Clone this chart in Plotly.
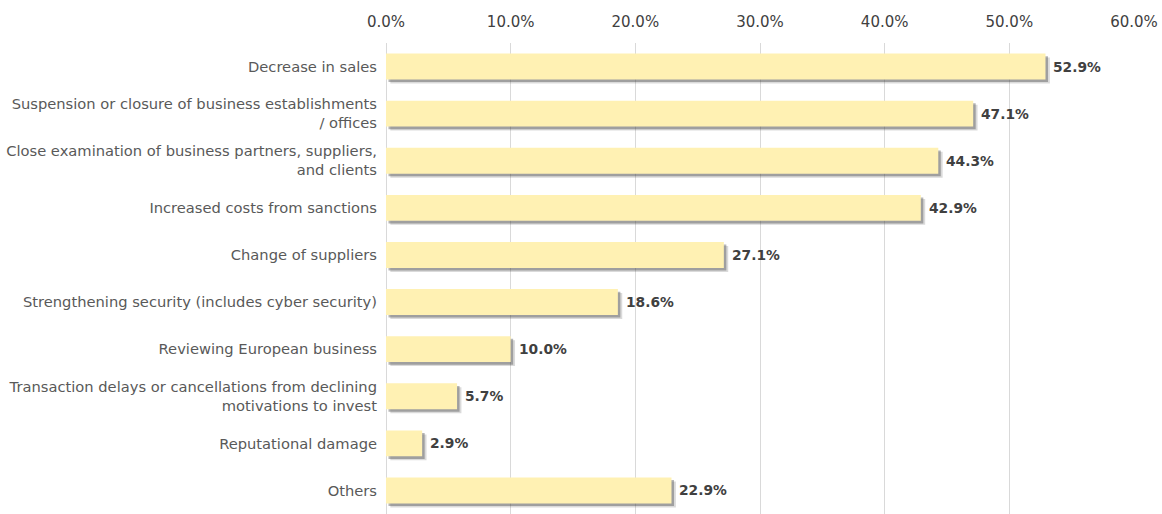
import plotly.graph_objects as go

categories = [
    "Decrease in sales",
    "Suspension or closure of business establishments<br>/ offices",
    "Close examination of business partners, suppliers,<br>and clients",
    "Increased costs from sanctions",
    "Change of suppliers",
    "Strengthening security (includes cyber security)",
    "Reviewing European business",
    "Transaction delays or cancellations from declining<br>motivations to invest",
    "Reputational damage",
    "Others",
]
shares = [52.9, 47.1, 44.3, 42.9, 27.1, 18.6, 10.0, 5.7, 2.9, 22.9]
tick_values = [0, 10, 20, 30, 40, 50, 60]

BAR_WIDTH = 0.55
FONT = "DejaVu Sans"

fig = go.Figure()

# soft drop shadow drawn as two faint grey layers under each bar
for dx, dy, alpha in [(0.35, 0.085, 0.2), (0.2, 0.055, 0.4)]:
    fig.add_trace(go.Bar(
        x=shares, y=categories, orientation="h",
        base=dx,
        width=BAR_WIDTH, offset=-BAR_WIDTH / 2 + dy,
        marker=dict(color=f"rgba(70,70,70,{alpha})", line=dict(width=0)),
        hoverinfo="skip", showlegend=False,
    ))

fig.add_trace(go.Bar(
    x=shares, y=categories, orientation="h",
    width=BAR_WIDTH, offset=-BAR_WIDTH / 2,
    marker=dict(color="#FFF1B3", line=dict(width=0)),
    showlegend=False,
))

# value labels just past the end of each bar
for v, c in zip(shares, categories):
    fig.add_annotation(
        x=v, y=c, text=f"<b>{v:.1f}%</b>", showarrow=False,
        xanchor="left", yanchor="middle", xshift=6,
        font=dict(family=FONT, size=13.8, color="#404040"),
    )

fig.update_layout(
    width=1162, height=514,
    margin=dict(l=386, r=28, t=43, b=0),
    paper_bgcolor="white", plot_bgcolor="white",
    barmode="overlay",
    font=dict(family=FONT, size=14.7, color="#595959"),
    xaxis=dict(
        side="top", range=[0, 60], tickvals=tick_values,
        ticktext=[f"{v:.1f}%" for v in tick_values],
        tickfont=dict(family=FONT, size=15, color="#404040"),
        showgrid=True, gridcolor="#D9D9D9", gridwidth=1,
        zeroline=True, zerolinecolor="#D9D9D9", zerolinewidth=1,
        showline=False, ticks="", ticklabelstandoff=12,
        fixedrange=True,
    ),
    yaxis=dict(
        autorange="reversed", showgrid=False, showline=False,
        ticks="", ticklabelstandoff=8,
        tickfont=dict(family=FONT, size=14.7, color="#595959"),
        fixedrange=True,
    ),
)

fig.write_html("out.html")
